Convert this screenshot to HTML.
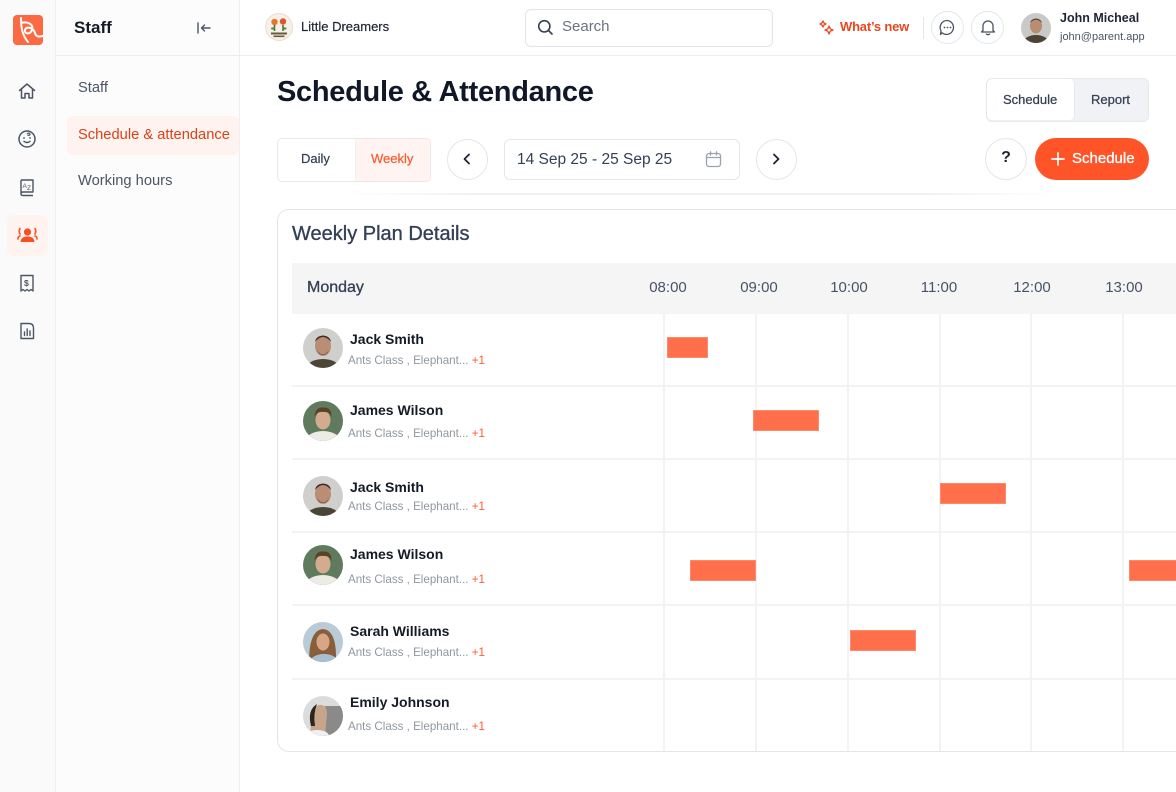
<!DOCTYPE html>
<html><head><meta charset="utf-8">
<style>
*{box-sizing:border-box;margin:0;padding:0}
body{width:1176px;height:792px;overflow:hidden;position:relative;background:#fff;font-family:"Liberation Sans",Arial,sans-serif;color:#101828}
.a{position:absolute}
.t{position:absolute;white-space:nowrap;line-height:20px;height:20px}
.m{-webkit-text-stroke:0.35px currentColor}
.circ{position:absolute;border-radius:50%;border:1.5px solid #e3e6eb;background:#fff}
.vl{position:absolute;top:314px;width:2px;height:437px;background:#f3f3f4}
.hl{position:absolute;left:292px;width:884px;height:2px;background:#f3f3f4}
.bar{position:absolute;height:21px;background:#ff6f4b;border:1px solid #ff8a6b}
.nm{position:absolute;left:350px;font-size:14px;font-weight:bold;color:#141a26;line-height:20px;white-space:nowrap}
.sb{position:absolute;left:348px;font-size:11.6px;color:#8f979f;line-height:16px;white-space:nowrap}
.sb span{color:#ff5a36}
.av{position:absolute;left:303px;width:40px;height:40px;border-radius:50%;overflow:hidden}
</style></head><body>

<!-- icon rail -->
<div class="a" style="left:0;top:0;width:56px;height:792px;background:#fafafa;border-right:1px solid #eeeff1"></div>
<div class="a" style="left:13px;top:15px;width:30px;height:30px;border-radius:4px;background:#fb6a43;overflow:hidden">
<svg width="30" height="30" viewBox="0 0 30 30"><path d="M8 3 C8 12 9 20 15 27 M8 8 C14 6 21 9 19 15 C17 20 11 19 12 15 C13 11 20 12 22 18 C23 22 26 22 30 21" fill="none" stroke="#fff" stroke-width="2" stroke-linecap="round"/></svg></div>

<svg class="a" style="left:17px;top:81px" width="20" height="20" viewBox="0 0 20 20"><path d="M2.5 9.5 L10 3 L17.5 9.5 M4.5 8 V17 H8 V12.5 H12 V17 H15.5 V8" fill="none" stroke="#4b5565" stroke-width="1.5" stroke-linejoin="round" stroke-linecap="round"/></svg>
<svg class="a" style="left:17px;top:129px" width="20" height="20" viewBox="0 0 20 20"><circle cx="10" cy="10" r="8" fill="none" stroke="#4b5565" stroke-width="1.5"/><path d="M6.5 12 Q10 15 13.5 12" fill="none" stroke="#4b5565" stroke-width="1.4"/><circle cx="7" cy="9" r=".9" fill="#4b5565"/><circle cx="13" cy="9" r=".9" fill="#4b5565"/><path d="M10 5 Q12 3 13 5.5 Q12 7 10.5 6" fill="none" stroke="#4b5565" stroke-width="1.2"/></svg>
<svg class="a" style="left:17px;top:177px" width="20" height="20" viewBox="0 0 20 20"><path d="M4 3 H16 V15 H6 Q4 15 4 17 Q4 18.5 6 18.5 H16 M4 17 V3" fill="none" stroke="#4b5565" stroke-width="1.4" stroke-linejoin="round"/><text x="5.5" y="11" font-size="6.5" fill="#4b5565" font-family="Liberation Sans">A</text><text x="10" y="13" font-size="6.5" fill="#4b5565" font-family="Liberation Sans">Z</text></svg>
<div class="a" style="left:7px;top:215px;width:41px;height:41px;border-radius:7px;background:#fff3ef"></div>
<svg class="a" style="left:17px;top:225px" width="21" height="20" viewBox="0 0 21 20"><circle cx="10.5" cy="7" r="3.6" fill="#fb4f1f"/><path d="M3.5 17 Q4 11.5 10.5 11.5 Q17 11.5 17.5 17 Z" fill="#fb4f1f"/><path d="M3 3.5 Q1.5 6 3 9 M18 3.5 Q19.5 6 18 9 M1 14 Q1 11.5 3 11 M20 14 Q20 11.5 18 11" fill="none" stroke="#fb4f1f" stroke-width="1.6" stroke-linecap="round"/></svg>
<svg class="a" style="left:17px;top:273px" width="20" height="20" viewBox="0 0 20 20"><path d="M4 2.5 H16 V18 L14 16.5 L12 18 L10 16.5 L8 18 L6 16.5 L4 18 Z" fill="none" stroke="#4b5565" stroke-width="1.4" stroke-linejoin="round"/><text x="7" y="13" font-size="8.5" font-weight="bold" fill="#4b5565" font-family="Liberation Sans">$</text></svg>
<svg class="a" style="left:17px;top:321px" width="20" height="20" viewBox="0 0 20 20"><path d="M4 2.5 H12 Q16.5 2.5 16.5 7 V17.5 H4 Z" fill="none" stroke="#4b5565" stroke-width="1.4" stroke-linejoin="round"/><path d="M7.5 14.5 V11 M10.2 14.5 V8 M13 14.5 V10" stroke="#4b5565" stroke-width="1.4" stroke-linecap="round"/></svg>

<!-- staff sidebar -->
<div class="a" style="left:56px;top:0;width:184px;height:792px;background:#fcfcfd;border-right:1px solid #eeeff1"></div>
<div class="a" style="left:56px;top:55px;width:1120px;height:1px;background:#eaecef"></div>
<div class="t" style="left:74px;top:18px;font-size:17px;font-weight:bold;color:#141a26">Staff</div>
<svg class="a" style="left:196px;top:21px" width="16" height="14" viewBox="0 0 16 14"><path d="M2 2 V12 M14 7 H5.5 M8.5 4 L5.5 7 L8.5 10" fill="none" stroke="#4b5565" stroke-width="1.4" stroke-linecap="round" stroke-linejoin="round"/></svg>
<div class="t" style="left:78px;top:78px;font-size:14.7px;color:#4b5565">Staff</div>
<div class="a" style="left:67px;top:116px;width:172px;height:39px;border-radius:6px;background:#fff3ef"></div>
<div class="t" style="left:78px;top:125px;font-size:14.7px;color:#d8421b">Schedule &amp; attendance</div>
<div class="t" style="left:78px;top:171px;font-size:14.7px;color:#4b5565">Working hours</div>

<!-- top header -->
<svg class="a" style="left:265px;top:13px" width="28" height="28" viewBox="0 0 28 28"><circle cx="14" cy="14" r="13.5" fill="#f6f0e6" stroke="#e8e0d0"/><circle cx="9.5" cy="9" r="3.2" fill="#e8742e"/><circle cx="18" cy="8.5" r="3.2" fill="#e0542e"/><path d="M9.5 12 V18 M18 12 V18" stroke="#3c7a3a" stroke-width="1.6"/><ellipse cx="8" cy="15.5" rx="2" ry="1.1" fill="#4d8c3f"/><ellipse cx="19.5" cy="15.5" rx="2" ry="1.1" fill="#4d8c3f"/><rect x="6" y="19.5" width="16" height="2" fill="#6b5a40"/><rect x="8.5" y="22.5" width="11" height="1.6" fill="#6b5a40"/></svg>
<div class="t m" style="left:301px;top:17px;font-size:13px;color:#1d2433;-webkit-text-stroke:0.2px #1d2433">Little Dreamers</div>

<div class="a" style="left:525px;top:9px;width:248px;height:38px;border:1.5px solid #e1e4e9;border-radius:6px;background:#fff"></div>
<svg class="a" style="left:537px;top:19px" width="17" height="17" viewBox="0 0 17 17"><circle cx="7.3" cy="7.3" r="5.6" fill="none" stroke="#344054" stroke-width="1.6"/><path d="M11.5 11.5 L15 15" stroke="#344054" stroke-width="1.6" stroke-linecap="round"/></svg>
<div class="t" style="left:562px;top:17px;font-size:15px;color:#6b7280">Search</div>

<svg class="a" style="left:819px;top:20px" width="15" height="15" viewBox="0 0 15 15"><path d="M4 1 L5 3 L7 4 L5 5 L4 7 L3 5 L1 4 L3 3 Z M10 6 L11.2 8.8 L14 10 L11.2 11.2 L10 14 L8.8 11.2 L6 10 L8.8 8.8 Z" fill="none" stroke="#e8461e" stroke-width="1.3" stroke-linejoin="round"/></svg>
<div class="t" style="left:840px;top:17px;font-size:13px;font-weight:bold;color:#e8461e;letter-spacing:-0.2px">What’s new</div>
<div class="a" style="left:923px;top:17px;width:1px;height:22px;background:#e4e6ea"></div>
<div class="circ" style="left:931px;top:11px;width:33px;height:33px"></div>
<svg class="a" style="left:938px;top:18px" width="19" height="19" viewBox="0 0 19 19"><path d="M9.5 2.5 A7 7 0 1 1 4 14.8 L2.5 16.5 L3 12.8 A7 7 0 0 1 9.5 2.5 Z" fill="none" stroke="#4b5565" stroke-width="1.3" stroke-linejoin="round"/><circle cx="6.5" cy="9.5" r=".9" fill="#4b5565"/><circle cx="9.5" cy="9.5" r=".9" fill="#4b5565"/><circle cx="12.5" cy="9.5" r=".9" fill="#4b5565"/></svg>
<div class="circ" style="left:971px;top:11px;width:33px;height:33px"></div>
<svg class="a" style="left:979px;top:18px" width="18" height="18" viewBox="0 0 18 18"><path d="M4 12.5 V8 A5 5 0 0 1 14 8 V12.5 L15.5 14 H2.5 Z" fill="none" stroke="#4b5565" stroke-width="1.3" stroke-linejoin="round"/><path d="M7.3 16 Q9 17.3 10.7 16" fill="none" stroke="#4b5565" stroke-width="1.3" stroke-linecap="round"/></svg>
<svg class="a" style="left:1021px;top:13px" width="30" height="30" viewBox="0 0 30 30"><defs><clipPath id="cj"><circle cx="15" cy="15" r="15"/></clipPath></defs><g clip-path="url(#cj)"><rect width="30" height="30" fill="#c9c9c7"/><ellipse cx="15" cy="30" rx="13" ry="8" fill="#4a4336"/><ellipse cx="15" cy="13" rx="6" ry="7.5" fill="#b88d72"/><path d="M9 10 Q15 3 21 10 Q20 6 15 5.5 Q10 6 9 10Z" fill="#3d2f26"/></g></svg>
<div class="t" style="left:1060px;top:8px;font-size:12.5px;font-weight:bold;color:#1d2433">John Micheal</div>
<div class="t" style="left:1060px;top:27px;font-size:11px;color:#4b5565">john@parent.app</div>

<!-- page title -->
<div class="t" style="left:277px;top:74px;height:36px;line-height:36px;font-size:29px;font-weight:bold;color:#101828;letter-spacing:-0.3px">Schedule &amp; Attendance</div>

<!-- schedule/report segment -->
<div class="a" style="left:986px;top:78px;width:163px;height:44px;border:1.5px solid #e6e8ec;border-radius:6px;background:#f1f2f5;overflow:hidden"><div class="a" style="left:0;top:0;width:88px;height:41px;background:#fff;border-right:1px solid #e6e8ec;border-radius:5px"></div></div>
<div class="t m" style="left:1003px;top:90px;font-size:13px;color:#344054;-webkit-text-stroke:0.25px #344054">Schedule</div>
<div class="t m" style="left:1091px;top:90px;font-size:13px;color:#344054;-webkit-text-stroke:0.25px #344054">Report</div>

<!-- daily/weekly -->
<div class="a" style="left:277px;top:138px;width:154px;height:44px;border:1.5px solid #e6e8ec;border-radius:5px;background:#fff;overflow:hidden"><div class="a" style="left:77px;top:0;width:77px;height:42px;background:#fff4f1;border-left:1px solid #eeeff1"></div></div>
<div class="t m" style="left:301px;top:149px;font-size:13px;color:#344054;-webkit-text-stroke:0.2px #344054">Daily</div>
<div class="t m" style="left:371px;top:149px;font-size:13px;color:#fb5a2c;-webkit-text-stroke:0.2px #fb5a2c">Weekly</div>

<div class="circ" style="left:447px;top:139px;width:41px;height:41px"></div>
<svg class="a" style="left:460px;top:152px" width="14" height="14" viewBox="0 0 14 14"><path d="M9 2.5 L4.5 7 L9 11.5" fill="none" stroke="#1d2433" stroke-width="1.8" stroke-linecap="round" stroke-linejoin="round"/></svg>
<div class="a" style="left:504px;top:139px;width:236px;height:41px;border:1.5px solid #e3e6eb;border-radius:6px;background:#fff"></div>
<div class="t" style="left:517px;top:150px;font-size:15.5px;color:#344054">14 Sep 25 - 25 Sep 25</div>
<svg class="a" style="left:704px;top:150px" width="19" height="19" viewBox="0 0 19 19"><rect x="2.5" y="3.5" width="14" height="13" rx="2.5" fill="none" stroke="#98a2b3" stroke-width="1.3"/><path d="M2.5 7.5 H16.5 M6.5 1.8 V5 M12.5 1.8 V5" stroke="#98a2b3" stroke-width="1.3" stroke-linecap="round"/></svg>
<div class="circ" style="left:756px;top:139px;width:41px;height:41px"></div>
<svg class="a" style="left:769px;top:152px" width="14" height="14" viewBox="0 0 14 14"><path d="M5 2.5 L9.5 7 L5 11.5" fill="none" stroke="#1d2433" stroke-width="1.8" stroke-linecap="round" stroke-linejoin="round"/></svg>

<div class="circ" style="left:985px;top:138px;width:42px;height:42px"></div>
<div class="t" style="left:985px;top:148px;width:42px;text-align:center;font-size:16px;font-weight:bold;color:#1d2433">?</div>
<div class="a" style="left:1035px;top:138px;width:114px;height:42px;border-radius:21px;background:#fe5427"></div>
<svg class="a" style="left:1051px;top:152px" width="14" height="14" viewBox="0 0 14 14"><path d="M7 1 V13 M1 7 H13" stroke="#fff" stroke-width="1.7" stroke-linecap="round"/></svg>
<div class="t m" style="left:1072px;top:149px;font-size:15px;color:#fff;-webkit-text-stroke:0.35px #fff">Schedule</div>

<!-- faint separator -->
<div class="a" style="left:340px;top:193px;width:720px;height:2px;background:linear-gradient(90deg,rgba(240,241,243,0),#eff0f2 20%,#eff0f2 80%,rgba(240,241,243,0))"></div>

<!-- card -->
<div class="a" style="left:277px;top:209px;width:940px;height:543px;border:1.5px solid #e3e5ea;border-radius:12px;background:#fff"></div>
<div class="t m" style="left:292px;top:222px;height:24px;line-height:24px;font-size:20px;color:#344054;-webkit-text-stroke:0.35px #344054">Weekly Plan Details</div>

<div class="a" style="left:292px;top:263px;width:884px;height:51px;background:#f5f5f5"></div>
<div class="t m" style="left:307px;top:278px;font-size:16px;color:#344054;-webkit-text-stroke:0.3px #344054">Monday</div>
<div class="t" style="left:638px;top:278px;width:60px;text-align:center;font-size:15px;color:#475467">08:00</div>
<div class="t" style="left:729px;top:278px;width:60px;text-align:center;font-size:15px;color:#475467">09:00</div>
<div class="t" style="left:819px;top:278px;width:60px;text-align:center;font-size:15px;color:#475467">10:00</div>
<div class="t" style="left:909px;top:278px;width:60px;text-align:center;font-size:15px;color:#475467">11:00</div>
<div class="t" style="left:1002px;top:278px;width:60px;text-align:center;font-size:15px;color:#475467">12:00</div>
<div class="t" style="left:1094px;top:278px;width:60px;text-align:center;font-size:15px;color:#475467">13:00</div>

<!-- grid -->
<div class="vl" style="left:663px"></div>
<div class="vl" style="left:755px"></div>
<div class="vl" style="left:847px"></div>
<div class="vl" style="left:939px"></div>
<div class="vl" style="left:1030px"></div>
<div class="vl" style="left:1122px"></div>
<div class="hl" style="top:385px"></div>
<div class="hl" style="top:458px"></div>
<div class="hl" style="top:531px"></div>
<div class="hl" style="top:604px"></div>
<div class="hl" style="top:678px"></div>

<!-- bars -->
<div class="bar" style="left:667px;top:337px;width:41px"></div>
<div class="bar" style="left:753px;top:410px;width:66px"></div>
<div class="bar" style="left:940px;top:483px;width:66px"></div>
<div class="bar" style="left:690px;top:560px;width:66px"></div>
<div class="bar" style="left:1129px;top:560px;width:60px"></div>
<div class="bar" style="left:850px;top:630px;width:66px"></div>

<!-- rows -->
<div class="av" style="top:328px"><svg width="40" height="40" viewBox="0 0 40 40"><rect width="40" height="40" fill="#cfcfcd"/><ellipse cx="20" cy="41" rx="17" ry="10" fill="#4b4536"/><ellipse cx="20" cy="18" rx="8" ry="10" fill="#b98e74"/><path d="M12 14 Q20 4 28 14 Q27 8 20 7.5 Q13 8 12 14Z" fill="#3b2e25"/><path d="M14 22 Q20 31 26 22 Q24 27 20 27 Q16 27 14 22Z" fill="#5a4436"/></svg></div>
<div class="nm" style="top:329px">Jack Smith</div>
<div class="sb" style="top:353px">Ants Class , Elephant... <span>+1</span></div>

<div class="av" style="top:401px"><svg width="40" height="40" viewBox="0 0 40 40"><rect width="40" height="40" fill="#5f7a5c"/><ellipse cx="20" cy="41" rx="18" ry="11" fill="#ecebe6"/><ellipse cx="20" cy="19" rx="7.5" ry="9.5" fill="#d3ab8f"/><path d="M11.5 16 Q12 6 20 6.5 Q29 6 28.5 16 Q26 10 20 11 Q14 10 11.5 16Z" fill="#5b4129"/></svg></div>
<div class="nm" style="top:400px">James Wilson</div>
<div class="sb" style="top:426px">Ants Class , Elephant... <span>+1</span></div>

<div class="av" style="top:476px"><svg width="40" height="40" viewBox="0 0 40 40"><rect width="40" height="40" fill="#cfcfcd"/><ellipse cx="20" cy="41" rx="17" ry="10" fill="#4b4536"/><ellipse cx="20" cy="18" rx="8" ry="10" fill="#b98e74"/><path d="M12 14 Q20 4 28 14 Q27 8 20 7.5 Q13 8 12 14Z" fill="#3b2e25"/><path d="M14 22 Q20 31 26 22 Q24 27 20 27 Q16 27 14 22Z" fill="#5a4436"/></svg></div>
<div class="nm" style="top:477px">Jack Smith</div>
<div class="sb" style="top:499px">Ants Class , Elephant... <span>+1</span></div>

<div class="av" style="top:545px"><svg width="40" height="40" viewBox="0 0 40 40"><rect width="40" height="40" fill="#5f7a5c"/><ellipse cx="20" cy="41" rx="18" ry="11" fill="#ecebe6"/><ellipse cx="20" cy="19" rx="7.5" ry="9.5" fill="#d3ab8f"/><path d="M11.5 16 Q12 6 20 6.5 Q29 6 28.5 16 Q26 10 20 11 Q14 10 11.5 16Z" fill="#5b4129"/></svg></div>
<div class="nm" style="top:544px">James Wilson</div>
<div class="sb" style="top:572px">Ants Class , Elephant... <span>+1</span></div>

<div class="av" style="top:622px"><svg width="40" height="40" viewBox="0 0 40 40"><rect width="40" height="40" fill="#b9cbd6"/><path d="M6 40 Q6 8 20 7 Q34 8 33 40Z" fill="#8a5e3a"/><ellipse cx="20" cy="20" rx="6.5" ry="8.5" fill="#d6a688"/><ellipse cx="21" cy="40" rx="14" ry="8" fill="#a8bfd3"/></svg></div>
<div class="nm" style="top:621px">Sarah Williams</div>
<div class="sb" style="top:645px">Ants Class , Elephant... <span>+1</span></div>

<div class="av" style="top:696px"><svg width="40" height="40" viewBox="0 0 40 40"><rect width="40" height="40" fill="#dcdcdc"/><rect x="22" y="10" width="18" height="30" fill="#8a8a8a"/><path d="M8 40 Q6 12 16 9 Q24 8 24 18 L22 40Z" fill="#c7a58a"/><path d="M8 30 Q4 14 14 8 Q10 18 12 30Z" fill="#2b2522"/><ellipse cx="14" cy="40" rx="12" ry="6" fill="#f0f0f0"/></svg></div>
<div class="nm" style="top:692px">Emily Johnson</div>
<div class="sb" style="top:719px">Ants Class , Elephant... <span>+1</span></div>

</body></html>
